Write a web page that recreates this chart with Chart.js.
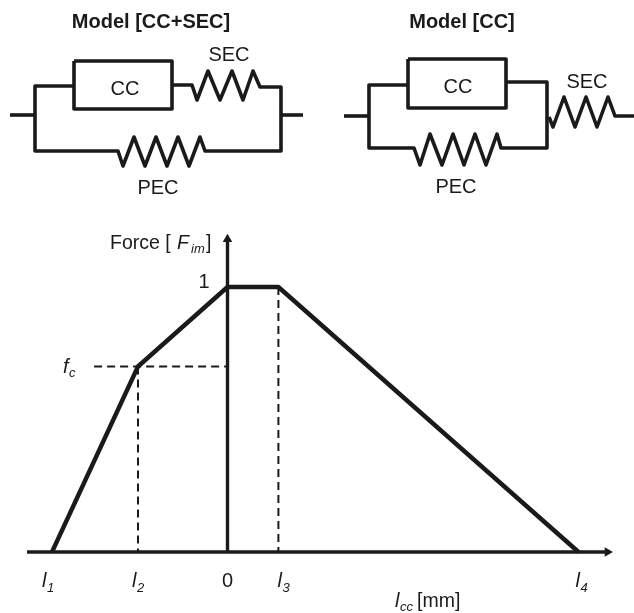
<!DOCTYPE html>
<html>
<head>
<meta charset="utf-8">
<style>html,body{margin:0;padding:0;background:#fff}canvas{display:block}</style>
<script src="https://cdn.jsdelivr.net/npm/chart.js@4"></script>
</head>
<body>
<canvas id="c" width="634" height="613"></canvas>
<script>
// Force-length curve (normalised length, normalised force)
const curveLength = [-1, -0.51, 0, 0.29, 2];
const curveForce  = [0, 0.70, 1, 1, 0];
const tickNames = ['l1', 'l2', '0', 'l3', 'l4'];
const tickLengths = [-1, -0.51, 0, 0.29, 2];
const fcValue = 0.70;
const peakValue = 1;
const l2Length = -0.51;
const l3Length = 0.29;

// Schematic polylines, in diagram units
const leftBoxX  = [74, 172, 172, 74, 74];
const leftBoxY  = [61, 61, 109, 109, 61];
const leftBranchX = [74, 35, 35, 118, 123, 134, 145, 156, 167, 178, 189, 200, 205, 281, 281, 260, 253, 243, 232, 220, 208, 197, 192, 172];
const leftBranchY = [86, 86, 151, 151, 166, 137, 166, 137, 166, 137, 166, 137, 151, 151, 87, 87, 71, 100, 71, 100, 71, 100, 85, 85];
const leftInX  = [10, 35];
const leftInY  = [115, 115];
const leftOutX = [281, 303];
const leftOutY = [115, 115];

const rightBoxX = [408, 506, 506, 408, 408];
const rightBoxY = [59, 59, 108, 108, 59];
const rightBranchX = [408, 369, 369, 414, 420, 430, 442, 453, 464, 475, 486, 497, 501, 547, 547, 506];
const rightBranchY = [85, 85, 148, 148, 165, 134, 165, 134, 165, 134, 165, 134, 148, 148, 82, 82];
const rightInX = [344, 369];
const rightInY = [116, 116];
const rightSecX = [549, 553, 564, 575, 586, 597, 608, 615, 634];
const rightSecY = [117, 127, 97, 127, 97, 127, 97, 116, 116];

const ink = '#1a1a1a';
const zip = (xs, ys) => xs.map((x, i) => ({ x, y: ys[i] }));
const wire = (xs, ys) => ({
  data: zip(xs, ys), xAxisID: 'dx', yAxisID: 'dy', showLine: true, pointRadius: 0,
  borderColor: ink, borderWidth: 3.6, borderJoinStyle: 'round', borderCapStyle: 'butt', tension: 0
});
const plot = (data, width, dash) => ({
  data, xAxisID: 'x', yAxisID: 'y', showLine: true, pointRadius: 0,
  borderColor: ink, borderWidth: width, borderDash: dash || [], borderJoinStyle: 'round', tension: 0
});
const arrow = (pt, rot) => ({
  data: [pt], xAxisID: 'x', yAxisID: 'y', showLine: false, pointStyle: 'triangle',
  pointRadius: 5.5, pointRotation: rot, backgroundColor: ink, borderColor: ink, borderWidth: 0
});

const serif = 'Liberation Sans, Arial, sans-serif';
const textPlugin = {
  id: 'labels',
  afterDatasetsDraw(chart) {
    const { ctx, scales: { x, y } } = chart;
    ctx.save();
    ctx.fillStyle = ink;
    ctx.textBaseline = 'alphabetic';
    const put = (str, px, py, font, align) => {
      ctx.font = font + ' ' + serif;
      ctx.textAlign = align || 'left';
      ctx.fillText(str, px, py);
    };
    // titles
    put('Model [CC+SEC]', 151, 28, 'bold 20px', 'center');
    put('Model [CC]', 462, 28, 'bold 20px', 'center');
    // schematic labels
    put('CC', 125, 95, '20px', 'center');
    put('SEC', 229, 61, '20px', 'center');
    put('PEC', 158, 194, '20px', 'center');
    put('CC', 458, 93, '20px', 'center');
    put('SEC', 587, 88, '20px', 'center');
    put('PEC', 456, 193, '20px', 'center');
    // y axis title
    put('Force [', 110, 249, '19.5px');
    put('F', 177, 249, 'italic 19.5px');
    put('im', 191, 253, 'italic 13px');
    put(']', 206, 249, '19.5px');
    // y labels
    const yPeak = y.getPixelForValue(peakValue);
    put('1', 204, yPeak + 1, '20px', 'center');
    const yFc = y.getPixelForValue(fcValue);
    put('f', 63, yFc + 7, 'italic 20px');
    put('c', 69, yFc + 11, 'italic 13px');
    // x tick labels
    const subShift = { l1: -6, l2: -2, l3: 3, l4: 1 };
    tickNames.forEach((n, i) => {
      const px = x.getPixelForValue(tickLengths[i]);
      if (n === '0') { put('0', px, 587, '20px', 'center'); return; }
      put('l', px + subShift[n] - 4, 587, 'italic 20px');
      put(n[1], px + subShift[n] + 1, 592, 'italic 13px');
    });
    // x axis title
    put('l', 395, 607, 'italic 20px');
    put('cc', 400, 611, 'italic 13px');
    put('[mm]', 417, 607, '19.5px');
    ctx.restore();
  }
};

new Chart(document.getElementById('c'), {
  type: 'scatter',
  data: {
    datasets: [
      wire(leftBoxX, leftBoxY), wire(leftBranchX, leftBranchY), wire(leftInX, leftInY), wire(leftOutX, leftOutY),
      wire(rightBoxX, rightBoxY), wire(rightBranchX, rightBranchY), wire(rightInX, rightInY), wire(rightSecX, rightSecY),
      plot([{ x: -1.142, y: 0 }, { x: 2.165, y: 0 }], 3.4),
      plot([{ x: 0, y: 0 }, { x: 0, y: 1.18 }], 3.4),
      plot([{ x: -0.76, y: fcValue }, { x: 0, y: fcValue }], 2, [8, 5]),
      plot([{ x: l2Length, y: fcValue }, { x: l2Length, y: 0 }], 2, [8, 5]),
      plot([{ x: l3Length, y: peakValue }, { x: l3Length, y: 0 }], 2, [8, 5]),
      plot(zip(curveLength, curveForce), 4.4),
      arrow({ x: 0, y: 1.18 }, 0),
      arrow({ x: 2.165, y: 0 }, 90)
    ]
  },
  options: {
    responsive: false,
    animation: false,
    devicePixelRatio: 1,
    clip: false,
    layout: { padding: 0, autoPadding: false },
    plugins: { legend: { display: false }, tooltip: { enabled: false } },
    scales: {
      x:  { type: 'linear', display: false, min: -1.2963, max: 2.3162 },
      y:  { type: 'linear', display: false, min: -0.2302, max: 2.083 },
      dx: { type: 'linear', display: false, min: 0, max: 634 },
      dy: { type: 'linear', display: false, min: 0, max: 613, reverse: true }
    }
  },
  plugins: [{
    id: 'paper',
    beforeDraw(c) { c.ctx.save(); c.ctx.fillStyle = '#fff'; c.ctx.fillRect(0, 0, c.width, c.height); c.ctx.restore(); }
  }, textPlugin]
});
</script>
</body>
</html>
